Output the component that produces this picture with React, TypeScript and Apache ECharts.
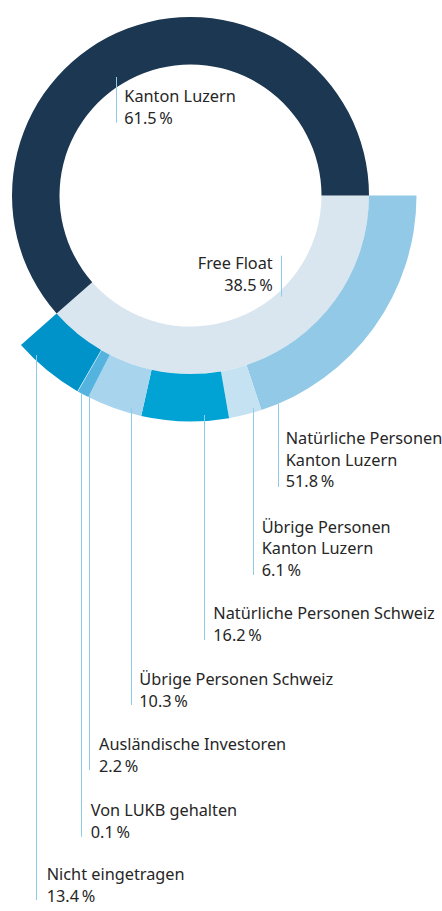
import React, { useEffect, useRef } from "react";
import * as echarts from "echarts";

// ---- data ----
const shareholderNames = ["Free Float", "Kanton Luzern"];
const shareholderValues = [38.5, 61.5];

const freeFloatNames = [
  "Natürliche Personen\nKanton Luzern",
  "Übrige Personen\nKanton Luzern",
  "Natürliche Personen Schweiz",
  "Übrige Personen Schweiz",
  "Ausländische Investoren",
  "Von LUKB gehalten",
  "Nicht eingetragen",
];
const freeFloatValues = [51.8, 6.1, 16.2, 10.3, 2.2, 0.1, 13.4];

// ---- styles ----
const shareholderColors = ["#dae6ef", "#1c3751"];
const freeFloatColors = ["#91c9e6", "#c5e2f3", "#00a3d3", "#a8d5ed", "#55b3df", "#d5ecf8", "#0093c9"];
const LEADER = "#8ecbe8";
const TEXT = "#262626";
const FONT_FAMILY = "'Noto Sans', sans-serif";
const FONT_SIZE = 16.3;
const LINE_H = 21.5;

const CENTER: [number, number] = [190.5, 195.5];
const R_INNER = 131;
const R_MID = 178.5;
const R_OUTER = 226;

// label layout: text anchor x, first-line center y, leader x, leader top/bottom
const shareholderLabelLayout = [
  { tx: 272.7, ty: 263.3, align: "right", lx: 281.5, l1: 255.7, l2: 296.7 },
  { tx: 124.3, ty: 96, align: "left", lx: 116.5, l1: 77, l2: 122.7 },
];
const freeFloatLabelLayout = [
  { tx: 285.7, ty: 438, lx: 278.5, l1: 404, l2: 487 },
  { tx: 261.7, ty: 526.7, lx: 253.5, l1: 408, l2: 575 },
  { tx: 213.3, ty: 613.3, lx: 204.5, l1: 415, l2: 640 },
  { tx: 139.3, ty: 679, lx: 131.5, l1: 408, l2: 705 },
  { tx: 99, ty: 744.3, lx: 89.5, l1: 395, l2: 770 },
  { tx: 90.7, ty: 810, lx: 81.5, l1: 393, l2: 836.7 },
  { tx: 46.7, ty: 874, lx: 36.5, l1: 355, l2: 900 },
];

const pct = (v: number) => `${v.toFixed(1)}\u2009%`;

function labelGraphics(name: string, value: number, l: any) {
  return [
    {
      type: "line",
      silent: true,
      z: 100,
      shape: { x1: l.lx, y1: l.l1, x2: l.lx, y2: l.l2 },
      style: { stroke: LEADER, lineWidth: 1 },
    },
    {
      type: "text",
      silent: true,
      z: 100,
      x: l.tx,
      y: l.ty - LINE_H / 2,
      style: {
        text: `${name}\n${pct(value)}`,
        fill: TEXT,
        font: `${FONT_SIZE}px ${FONT_FAMILY}`,
        lineHeight: LINE_H,
        align: l.align || "left",
        verticalAlign: "top",
      },
    },
  ];
}

export default function App() {
  const ref = useRef<HTMLDivElement>(null);
  useEffect(() => {
    if (!ref.current) return;
    const chart = echarts.init(ref.current, undefined, { renderer: "svg" });
    const total = shareholderValues.reduce((a, b) => a + b, 0);
    const freeFloatSpan = (360 * shareholderValues[0]) / total;
    const graphic: any[] = [];
    shareholderNames.forEach((n, i) => graphic.push(...labelGraphics(n, shareholderValues[i], shareholderLabelLayout[i])));
    freeFloatNames.forEach((n, i) => graphic.push(...labelGraphics(n, freeFloatValues[i], freeFloatLabelLayout[i])));
    chart.setOption({
      animation: false,
      backgroundColor: "#ffffff",
      series: [
        {
          type: "pie",
          center: CENTER,
          radius: [R_INNER, R_MID],
          startAngle: 0,
          clockwise: true,
          silent: true,
          label: { show: false },
          labelLine: { show: false },
          itemStyle: { borderWidth: 0 },
          data: shareholderNames.map((n, i) => ({
            name: n,
            value: shareholderValues[i],
            itemStyle: { color: shareholderColors[i] },
          })),
        },
        {
          type: "pie",
          center: CENTER,
          radius: [R_MID, R_OUTER],
          startAngle: 0,
          endAngle: -freeFloatSpan,
          clockwise: true,
          silent: true,
          minAngle: 0,
          avoidLabelOverlap: false,
          label: { show: false },
          labelLine: { show: false },
          itemStyle: { borderWidth: 0 },
          data: freeFloatNames.map((n, i) => ({
            name: n,
            value: freeFloatValues[i],
            itemStyle: { color: freeFloatColors[i] },
          })),
        },
      ],
      graphic,
    });
    return () => chart.dispose();
  }, []);
  return <div ref={ref} style={{ position: "fixed", left: 0, top: 0, width: 442, height: 911 }} />;
}
